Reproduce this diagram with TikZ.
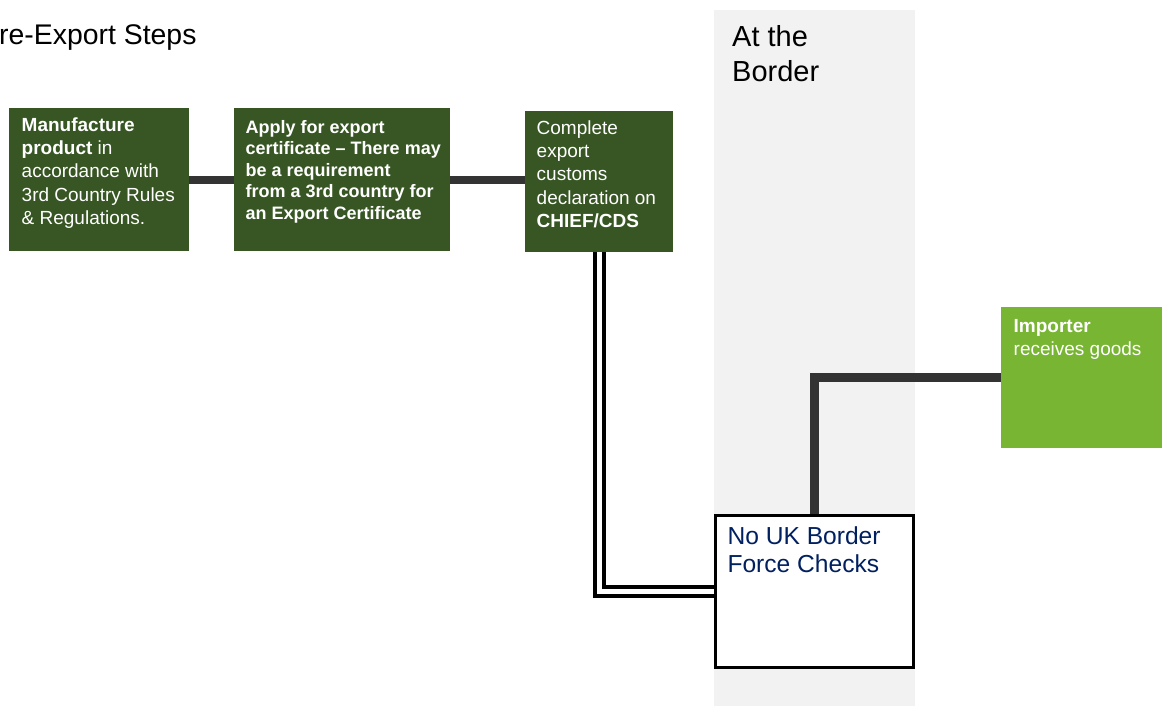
\documentclass[tikz,border=0pt]{standalone}
\usepackage{fontspec}
\setmainfont{Liberation Sans}
\usepackage{tikz}
\usetikzlibrary{arrows.meta, positioning}

\definecolor{stepgreen}{HTML}{375623}
\definecolor{importgreen}{HTML}{77B532}
\definecolor{bandgrey}{HTML}{F2F2F2}
\definecolor{linkgrey}{HTML}{333333}
\definecolor{checknavy}{HTML}{002060}

\begin{document}
\begin{tikzpicture}[x=1pt, y=-1pt,
    stepbox/.style={rectangle, fill=stepgreen, inner sep=0pt},
    steptext/.style={anchor=north west, inner sep=0pt, align=left, text=white,
      font=\fontsize{19}{23.3}\selectfont},
    link/.style={draw=linkgrey, line width=8pt}]
  \useasboundingbox (0,0) rectangle (1162,706);
  \fill[bandgrey] (714,10) rectangle (915,706);
  \node[anchor=base west, inner sep=0pt, font=\fontsize{28.4}{33}\selectfont] (pretitle) at (-1,45) {re-Export Steps};
  \node[anchor=north west, inner sep=0pt, align=left, font=\fontsize{29}{35}\selectfont] (bordertitle) at (732,22.2) {\strut At the\\Border};

  \node[stepbox, minimum width=180pt, minimum height=143pt] (manuf) at (99,179.5) {};
  \node[stepbox, minimum width=216pt, minimum height=143pt] (cert) at (342,179.5) {};
  \node[stepbox, minimum width=148pt, minimum height=141pt] (cds) at (599,181.5) {};
  \node[rectangle, fill=importgreen, inner sep=0pt, minimum width=161pt, minimum height=141pt] (importer) at (1081.5,377.5) {};

  \node[steptext] (manuftext) at ([xshift=12.7pt, yshift=-7pt]manuf.north west)
    {\strut\textbf{Manufacture}\\\textbf{product} in\\accordance with\\3rd Country Rules\\\& Regulations.};
  \node[steptext, font=\bfseries\fontsize{18}{21.6}\selectfont] (certtext) at ([xshift=11.7pt, yshift=-9.9pt]cert.north west)
    {\strut Apply for export\\certificate -- There may\\be a requirement\\from a 3rd country for\\an Export Certificate};
  \node[steptext] (cdstext) at ([xshift=11.7pt, yshift=-7pt]cds.north west)
    {\strut Complete\\export\\customs\\declaration on\\\textbf{CHIEF/CDS}};
  \node[steptext] (importertext) at ([xshift=12.7pt, yshift=-8.7pt]importer.north west)
    {\strut\textbf{Importer}\\receives goods};

  \draw[link] (manuf.east) -- (cert.west);
  \draw[link] (cert.east) -- (cert.east -| cds.west);
  \draw[line width=4pt, double=white, double distance=5pt] (cds.south) |- (714,591.5);

  \node[rectangle, draw=black, line width=3pt, fill=white, minimum width=198pt, minimum height=152pt] (border) at (814.5,591.5) {};
  \node[anchor=north west, inner sep=0pt, align=left, text=checknavy, font=\fontsize{24.6}{28.3}\selectfont] (bordertext) at ([xshift=13.3pt, yshift=-10.2pt]border.north west)
    {\strut No UK Border\\Force Checks};
  \draw[link, line width=8.5pt] (border.north) |- (importer.west);
\end{tikzpicture}
\end{document}
